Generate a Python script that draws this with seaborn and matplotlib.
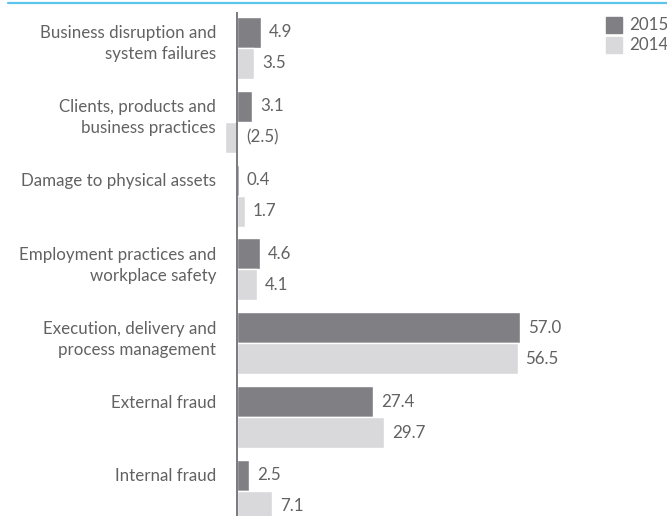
import matplotlib
matplotlib.use("Agg")
import matplotlib.pyplot as plt
import seaborn as sns
import pandas as pd
from matplotlib.lines import Line2D

categories = [
    "Business disruption and\nsystem failures",
    "Clients, products and\nbusiness practices",
    "Damage to physical assets",
    "Employment practices and\nworkplace safety",
    "Execution, delivery and\nprocess management",
    "External fraud",
    "Internal fraud",
]
years = ["2015", "2014"]
values_2015 = [4.9, 3.1, 0.4, 4.6, 57.0, 27.4, 2.5]
values_2014 = [3.5, -2.5, 1.7, 4.1, 56.5, 29.7, 7.1]

df = pd.DataFrame({
    "category": categories * 2,
    "year": [years[0]] * len(categories) + [years[1]] * len(categories),
    "value": values_2015 + values_2014,
})

sns.set_theme(style="white")
plt.rcParams["font.family"] = ["Lato", "DejaVu Sans"]
plt.rcParams["font.weight"] = "normal"
FS = 12.2
TEXT = "#626262"
LINE_PX = 21

W, H = 667, 516
fig = plt.figure(figsize=(W / 100, H / 100), dpi=100)
ax_left, ax_top = 220, 12
ax = fig.add_axes([ax_left / W, 0, 1 - ax_left / W, 1 - ax_top / H])

palette = {"2015": "#7f7f84", "2014": "#d9d9db"}
sns.barplot(data=df, y="category", x="value", hue="year", order=categories,
            hue_order=years, palette=palette, orient="h", width=0.84,
            saturation=1, ax=ax, legend=False)

px_per_unit = 283 / 57.0
x0 = (237 - ax_left) / px_per_unit
ax.set_xlim(-x0, (W - ax_left) / px_per_unit - x0)
ax.set_ylim(6.34, -0.486)
for s in ax.spines.values():
    s.set_visible(False)
ax.axvline(0, color="#707074", lw=1.3, zorder=5)

ax.set_xticks([])
ax.set_yticks([])
ax.set_xlabel("")
ax.set_ylabel("")

# category labels: first line level with the 2015 bar of each group
for cat, bar in zip(categories, ax.containers[0]):
    yc = bar.get_y() + bar.get_height() / 2
    for k, line in enumerate(cat.split("\n")):
        ax.annotate(line, xy=(0, yc), xycoords=("axes fraction", "data"),
                    xytext=(-4, -6 - k * LINE_PX), textcoords="offset pixels",
                    ha="right", va="baseline", fontsize=FS, color=TEXT)

# value labels at bar ends; negatives shown in parentheses right of the axis
for container, vals in zip(ax.containers, [values_2015, values_2014]):
    for bar, v in zip(container, vals):
        y = bar.get_y() + bar.get_height() / 2
        if v < 0:
            ax.annotate(f"({abs(v):.1f})", (0, y), xytext=(6.5, 0),
                        textcoords="offset points", va="center", ha="left",
                        fontsize=FS, color=TEXT)
        else:
            ax.annotate(f"{v:.1f}", (v, y), xytext=(5.5, 0),
                        textcoords="offset points", va="center", ha="left",
                        fontsize=FS, color=TEXT)

# legend
for i, yr in enumerate(years):
    yc = 1 - (25 + 20 * i) / H
    fig.patches.append(plt.Rectangle((606 / W, yc - 8 / H), 16 / W, 16 / H,
                                     transform=fig.transFigure,
                                     color=palette[yr], figure=fig))
    fig.text(629 / W, yc, yr, fontsize=FS, color=TEXT, va="center", ha="left")

# top rule
fig.add_artist(Line2D([8 / W, 1], [1 - 3 / H, 1 - 3 / H], color="#5bc5ee",
                      lw=1.6, transform=fig.transFigure))

fig.savefig("out.png", dpi=100)
